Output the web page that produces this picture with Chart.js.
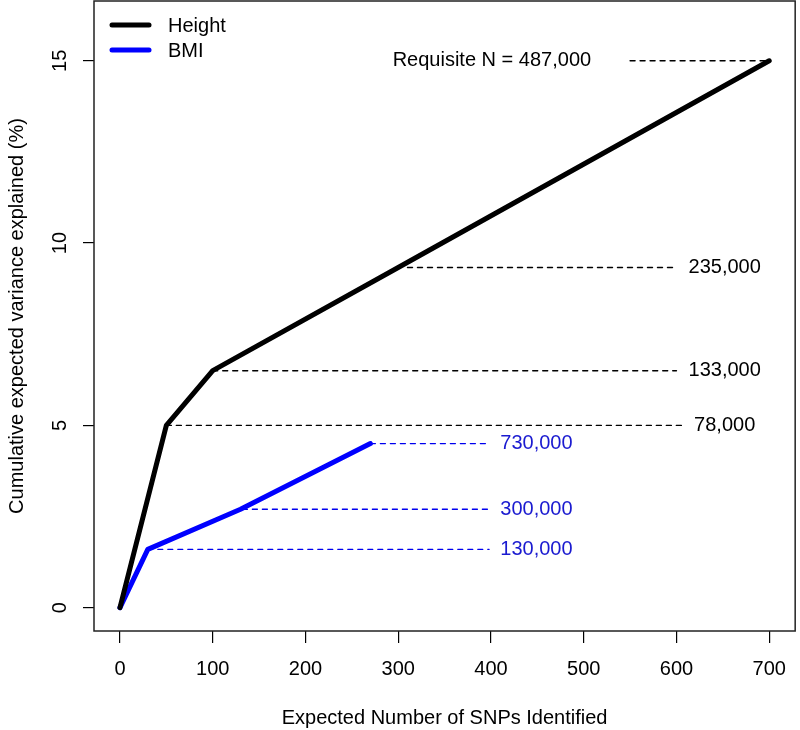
<!DOCTYPE html>
<html>
<head>
<meta charset="utf-8">
<script src="https://cdn.jsdelivr.net/npm/chart.js@4.4.1/dist/chart.umd.min.js"></script>
<style>
  body { margin: 0; background: #fff; }
  canvas { display: block; }
</style>
</head>
<body>
<canvas id="chart" width="800" height="730"></canvas>
<script>
// ticks
var xTicks = [0, 100, 200, 300, 400, 500, 600, 700];
var yTicks = [0, 5, 10, 15];

// cumulative variance explained (%) against number of SNPs
var heightSNPs = [0, 50, 100, 300, 700];
var heightVar = [0, 5, 6.5, 9.33, 15];
var bmiSNPs = [0, 30, 130, 270];
var bmiVar = [0, 1.6, 2.7, 4.5];

// requisite sample sizes, with the dashed guide for each
var heightN = ["78,000", "133,000", "235,000", "Requisite N = 487,000"];
var heightNVar = [5, 6.5, 9.33, 15];
var heightNFrom = [50, 100, 310, 550];
var heightNTo = [608, 600, 600, 700];
var bmiN = ["130,000", "300,000", "730,000"];
var bmiNVar = [1.6, 2.7, 4.5];
var bmiNFrom = [30, 132, 270];
var bmiNTo = [398, 398, 398];

var FONT = '"Liberation Sans", Arial, Helvetica, sans-serif';
var BLUE = '#0000ff';

function pts(xs, ys) {
    return xs.map(function (x, i) { return { x: x, y: ys[i] }; });
}

var datasets = [
    {
        label: "Height",
        data: pts(heightSNPs, heightVar),
        borderColor: '#000',
        borderWidth: 5,
        legend: true,
        order: 0
    },
    {
        label: "BMI",
        data: pts(bmiSNPs, bmiVar),
        borderColor: BLUE,
        borderWidth: 5,
        legend: true,
        order: 0
    }
];

heightNVar.forEach(function (v, i) {
    datasets.push({
        label: heightN[i],
        data: [{ x: heightNFrom[i], y: v }, { x: heightNTo[i], y: v }],
        borderColor: '#000',
        borderWidth: 1.4,
        borderDash: [5, 5],
        order: 1,
        nLabel: heightN[i],
        labelX: i == 3 ? 401 : 652,
        textColor: '#000'
    });
});
bmiNVar.forEach(function (v, i) {
    datasets.push({
        label: bmiN[i],
        data: [{ x: bmiNFrom[i], y: v }, { x: bmiNTo[i], y: v }],
        borderColor: '#0000ee',
        borderWidth: 1.4,
        borderDash: [5, 5],
        order: 1,
        nLabel: bmiN[i],
        labelX: 449,
        textColor: '#1a1ad0'
    });
});

var extras = {
    id: 'extras',
    afterDraw: function (chart) {
        var c = chart.ctx, a = chart.chartArea;
        var xs = chart.scales.x, ys = chart.scales.y;
        c.save();
        // plot box
        c.strokeStyle = '#222';
        c.lineWidth = 1.5;
        c.strokeRect(a.left, a.top, a.right - a.left, a.bottom - a.top);

        c.fillStyle = '#000';
        c.font = '20px ' + FONT;
        c.textAlign = 'center';
        c.textBaseline = 'middle';

        // y tick labels, rotated like R
        yTicks.forEach(function (v) {
            c.save();
            c.translate(60, ys.getPixelForValue(v));
            c.rotate(-Math.PI / 2);
            c.fillText(String(v), 0, 0);
            c.restore();
        });
        // axis titles
        c.save();
        c.translate(17, (a.top + a.bottom) / 2);
        c.rotate(-Math.PI / 2);
        c.fillText("Cumulative expected variance explained (%)", 0, 0);
        c.restore();
        c.fillText("Expected Number of SNPs Identified", (a.left + a.right) / 2, 718);

        // sample size labels
        chart.data.datasets.forEach(function (d) {
            if (!d.nLabel) return;
            c.fillStyle = d.textColor;
            c.fillText(d.nLabel, xs.getPixelForValue(d.labelX), ys.getPixelForValue(d.data[0].y));
        });

        // legend
        c.textAlign = 'left';
        c.lineCap = 'round';
        chart.data.datasets.filter(function (d) { return d.legend; }).forEach(function (d, i) {
            var y = 25 + i * 25;
            c.strokeStyle = d.borderColor;
            c.lineWidth = 5;
            c.beginPath();
            c.moveTo(112, y);
            c.lineTo(149, y);
            c.stroke();
            c.fillStyle = '#000';
            c.fillText(d.label, 168, y + 1);
        });
        c.restore();
    }
};

var chartGraph = new Chart(document.getElementById("chart"), {
    type: 'line',
    data: { datasets: datasets },
    options: {
        responsive: false,
        animation: false,
        events: [],
        layout: { padding: { top: 1, right: 3, left: 0, bottom: 0 } },
        elements: {
            point: { radius: 0 },
            line: { tension: 0, borderCapStyle: 'round', borderJoinStyle: 'round', fill: false }
        },
        plugins: {
            legend: { display: false },
            tooltip: { enabled: false }
        },
        scales: {
            x: {
                type: 'linear',
                min: -28,
                max: 728,
                afterBuildTicks: function (s) { s.ticks = xTicks.map(function (v) { return { value: v }; }); },
                afterFit: function (s) { s.height = 99; },
                border: { display: false },
                grid: { drawOnChartArea: false, drawTicks: true, tickLength: 12, color: '#000', lineWidth: 1.2 },
                ticks: { color: '#000', padding: 14, maxRotation: 0, autoSkip: false, font: { family: FONT, size: 20 } }
            },
            y: {
                type: 'linear',
                min: -0.64,
                max: 16.64,
                afterBuildTicks: function (s) { s.ticks = yTicks.map(function (v) { return { value: v }; }); },
                afterFit: function (s) { s.width = 94; },
                border: { display: false },
                grid: { drawOnChartArea: false, drawTicks: true, tickLength: 11, color: '#000', lineWidth: 1.2 },
                ticks: { display: false }
            }
        }
    },
    plugins: [extras]
});
</script>
</body>
</html>
